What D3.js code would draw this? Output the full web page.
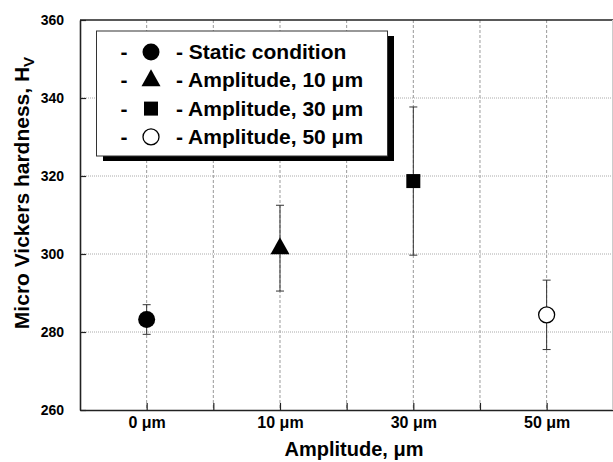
<!DOCTYPE html>
<html>
<head>
<meta charset="utf-8">
<script src="https://cdn.jsdelivr.net/npm/d3@7.9.0/dist/d3.min.js"></script>
<style>
  body { margin: 0; background: #fff; }
  svg { display: block; font-family: Arial, "Liberation Sans", sans-serif; font-weight: bold; }
</style>
</head>
<body>
<svg id="chart" width="613" height="462"></svg>
<script>
const categories = ['0 \u03bcm', '10 \u03bcm', '30 \u03bcm', '50 \u03bcm'];
const means = [283.2, 301.5, 318.7, 284.4];
const errors = [3.8, 11, 19, 8.9];
const legendLabels = ['Static condition', 'Amplitude, 10 \u03bcm', 'Amplitude, 30 \u03bcm', 'Amplitude, 50 \u03bcm'];
const symbols = ['circle', 'triangle', 'square', 'open'];
const yTicks = [260, 280, 300, 320, 340, 360];

const margin = { left: 80, top: 20, right: 613.3, bottom: 410 };
const svg = d3.select('#chart');

// categories sit on odd positions, minor ticks in between
const x = d3.scaleLinear().domain([0, 8]).range([margin.left, margin.right]);
const y = d3.scaleLinear().domain([260, 360]).range([margin.bottom, margin.top]);
const xPos = i => x(2 * i + 1);

// grid
svg.append('g').selectAll('line').data(d3.range(1, 8)).join('line')
  .attr('x1', d => x(d)).attr('x2', d => x(d))
  .attr('y1', margin.top).attr('y2', margin.bottom)
  .attr('stroke', '#999').attr('stroke-width', 1).attr('stroke-dasharray', '3,2');
svg.append('g').selectAll('line').data(yTicks.slice(1, -1)).join('line')
  .attr('x1', margin.left).attr('x2', margin.right)
  .attr('y1', d => y(d)).attr('y2', d => y(d))
  .attr('stroke', '#aaa').attr('stroke-width', 1).attr('stroke-dasharray', '1,1');

// axes (ticks pointing inward)
const yAxis = svg.append('g').attr('transform', `translate(${margin.left},0)`)
  .call(d3.axisLeft(y).tickValues(yTicks).tickSizeInner(-6).tickSizeOuter(0).tickPadding(16));
yAxis.select('.domain').attr('stroke', '#222').attr('stroke-width', 1.6);
yAxis.selectAll('.tick line').attr('stroke', '#222').attr('stroke-width', 1.2);
yAxis.selectAll('text').attr('font-size', 14).attr('font-weight', 'bold').attr('fill', '#000')
  .attr('font-family', 'Arial, "Liberation Sans", sans-serif');

const xAxis = svg.append('g').attr('transform', `translate(0,${margin.bottom})`)
  .call(d3.axisBottom(x).tickValues(d3.range(1, 8)).tickSizeInner(-7).tickSizeOuter(0)
    .tickFormat(d => d % 2 === 1 ? categories[(d - 1) / 2] : ''));
xAxis.select('.domain').attr('stroke', '#222').attr('stroke-width', 1.6);
xAxis.selectAll('.tick line').attr('stroke', '#222').attr('stroke-width', 1.2);
xAxis.selectAll('text').attr('font-size', 16).attr('font-weight', 'bold').attr('fill', '#000')
  .attr('font-family', 'Arial, "Liberation Sans", sans-serif').attr('dy', '0.95em');

// top and right frame
svg.append('line').attr('x1', margin.left).attr('x2', margin.right)
  .attr('y1', margin.top).attr('y2', margin.top).attr('stroke', '#222').attr('stroke-width', 1.6);
svg.append('line').attr('x1', 612.5).attr('x2', 612.5)
  .attr('y1', margin.top).attr('y2', margin.bottom).attr('stroke', '#ccc').attr('stroke-width', 1);

// titles
svg.append('text').attr('x', 354).attr('y', 456).attr('text-anchor', 'middle')
  .attr('font-size', 20).text('Amplitude, \u03bcm');
const yt = svg.append('text').attr('transform', 'translate(29,193) rotate(-90)')
  .attr('text-anchor', 'middle').attr('font-size', 21);
yt.append('tspan').text('Micro Vickers hardness, H');
yt.append('tspan').attr('font-size', 15).attr('dy', 5).text('V');

function drawSymbol(g, type, cx, cy) {
  if (type === 'circle') {
    g.append('circle').attr('cx', cx).attr('cy', cy).attr('r', 8.5).attr('fill', '#000');
  } else if (type === 'open') {
    g.append('circle').attr('cx', cx).attr('cy', cy).attr('r', 8).attr('fill', '#fff')
      .attr('stroke', '#000').attr('stroke-width', 1.3);
  } else if (type === 'square') {
    g.append('rect').attr('x', cx - 7).attr('y', cy - 7).attr('width', 14).attr('height', 14).attr('fill', '#000');
  } else {
    g.append('path').attr('d', `M${cx},${cy - 11}L${cx + 9.5},${cy + 6}L${cx - 9.5},${cy + 6}Z`).attr('fill', '#000');
  }
}

// error bars + points
const pts = svg.append('g');
means.forEach((m, i) => {
  const cx = xPos(i);
  pts.append('line').attr('x1', cx).attr('x2', cx)
    .attr('y1', y(m - errors[i])).attr('y2', y(m + errors[i]))
    .attr('stroke', '#333').attr('stroke-width', 1);
  [m - errors[i], m + errors[i]].forEach(v => {
    pts.append('line').attr('x1', cx - 4).attr('x2', cx + 4)
      .attr('y1', y(v)).attr('y2', y(v)).attr('stroke', '#333').attr('stroke-width', 1);
  });
  drawSymbol(pts, symbols[i], cx, y(m));
});

// legend
const lg = svg.append('g');
lg.append('rect').attr('x', 103).attr('y', 36).attr('width', 291).attr('height', 125).attr('fill', '#000');
lg.append('rect').attr('x', 96.5).attr('y', 31).attr('width', 291).attr('height', 125)
  .attr('fill', '#fff').attr('stroke', '#333').attr('stroke-width', 1);
legendLabels.forEach((lab, i) => {
  const cy = 52 + i * 28.3;
  lg.append('text').attr('x', 124).attr('y', cy + 7).attr('text-anchor', 'middle')
    .attr('font-size', 21).text('-');
  drawSymbol(lg, symbols[i], 151, cy);
  lg.append('text').attr('x', 176).attr('y', cy + 7).attr('font-size', 21).text('- ' + lab);
});
</script>
</body>
</html>
